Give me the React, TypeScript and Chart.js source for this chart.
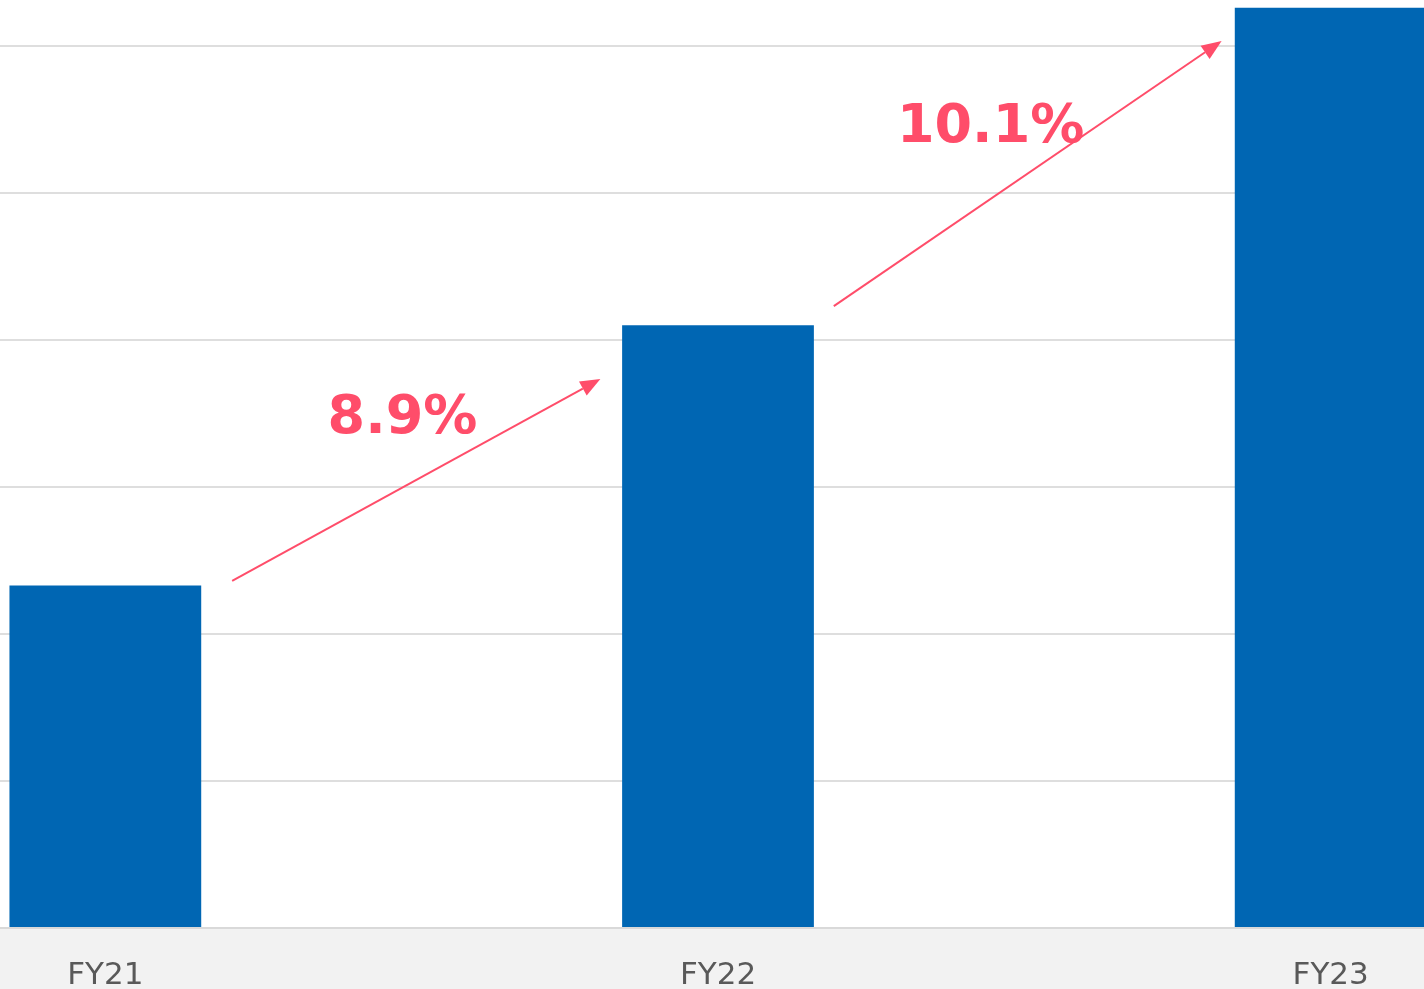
import React, { useEffect, useRef } from 'react';
import { Chart, registerables } from 'chart.js';

Chart.register(...registerables);

// ---- data ----
const categories = ['FY21', 'FY22', 'FY23'];
const values = [2.33, 4.1, 6.26];
const growthLabels = ['8.9%', '10.1%'];
// [category index position, value] for each growth label centre
const growthLabelPos = [
  [0.485, 3.462],
  [1.445, 5.442],
];
// arrows (category index position, value)
const arrowStart = [
  [0.207, 2.361],
  [1.189, 4.231],
];
const arrowEnd = [
  [0.808, 3.735],
  [1.822, 6.034],
];
const yMax = 6.313;

const BAR_COLOR = '#0066b3';
const ACCENT = '#ff4d6a';

const overlayPlugin = {
  id: 'overlay',
  beforeDraw(chart: any) {
    const { ctx, chartArea, width, height } = chart;
    ctx.save();
    ctx.fillStyle = '#ffffff';
    ctx.fillRect(0, 0, width, chartArea.bottom);
    ctx.fillStyle = '#f2f2f2';
    ctx.fillRect(0, chartArea.bottom, width, height - chartArea.bottom);
    ctx.restore();
  },
  afterDatasetsDraw(chart: any) {
    const { ctx } = chart;
    const xs = chart.scales.x;
    const ys = chart.scales.y;
    ctx.save();
    ctx.strokeStyle = ACCENT;
    ctx.fillStyle = ACCENT;
    ctx.lineWidth = 2;
    for (let i = 0; i < arrowStart.length; i++) {
      const x1 = xs.getPixelForValue(arrowStart[i][0]);
      const y1 = ys.getPixelForValue(arrowStart[i][1]);
      const x2 = xs.getPixelForValue(arrowEnd[i][0]);
      const y2 = ys.getPixelForValue(arrowEnd[i][1]);
      const ang = Math.atan2(y2 - y1, x2 - x1);
      const headLen = 20;
      const headHalf = 8;
      const bx = x2 - headLen * Math.cos(ang);
      const by = y2 - headLen * Math.sin(ang);
      ctx.beginPath();
      ctx.moveTo(x1, y1);
      ctx.lineTo(bx, by);
      ctx.stroke();
      ctx.beginPath();
      ctx.moveTo(x2, y2);
      ctx.lineTo(bx + headHalf * Math.sin(ang), by - headHalf * Math.cos(ang));
      ctx.lineTo(bx - headHalf * Math.sin(ang), by + headHalf * Math.cos(ang));
      ctx.closePath();
      ctx.fill();
    }
    ctx.font = 'bold 54px "DejaVu Sans", sans-serif';
    ctx.textAlign = 'center';
    ctx.textBaseline = 'middle';
    for (let i = 0; i < growthLabels.length; i++) {
      const x = xs.getPixelForValue(growthLabelPos[i][0]);
      const y = ys.getPixelForValue(growthLabelPos[i][1]);
      ctx.fillText(growthLabels[i], x, y);
    }
    ctx.restore();
  },
};

export default function App() {
  const canvasRef = useRef<HTMLCanvasElement | null>(null);

  useEffect(() => {
    if (!canvasRef.current) return;
    const chart = new Chart(canvasRef.current, {
      type: 'bar',
      data: {
        labels: categories,
        datasets: [
          {
            data: values,
            backgroundColor: BAR_COLOR,
            borderWidth: 0,
            categoryPercentage: 0.313,
            barPercentage: 1,
          },
        ],
      },
      options: {
        animation: false,
        responsive: true,
        maintainAspectRatio: false,
        layout: { padding: 0 },
        plugins: {
          legend: { display: false },
          tooltip: { enabled: false },
        },
        scales: {
          x: {
            offset: true,
            grid: { display: false, drawTicks: false },
            border: { display: true, color: '#d9d9d9', width: 2 },
            ticks: {
              color: '#595959',
              font: { family: '"DejaVu Sans", sans-serif', size: 31 },
              padding: 29,
            },
            afterFit: (scale: any) => {
              scale.height = 61;
            },
          },
          y: {
            min: 0,
            max: yMax,
            ticks: { display: false, stepSize: 1 },
            border: { display: false },
            grid: {
              drawTicks: false,
              lineWidth: 2,
              color: (ctx: any) =>
                ctx.tick && Number.isInteger(ctx.tick.value) ? '#dedede' : 'rgba(0,0,0,0)',
            },
          },
        },
      },
      plugins: [overlayPlugin],
    });
    return () => chart.destroy();
  }, []);

  return (
    <div
      style={{
        position: 'fixed',
        left: 0,
        top: 0,
        width: 1424,
        height: 989,
        overflow: 'hidden',
        background: '#ffffff',
      }}
    >
      <div style={{ position: 'absolute', left: -201, top: 0, width: 1838, height: 989 }}>
        <canvas ref={canvasRef} />
      </div>
    </div>
  );
}
